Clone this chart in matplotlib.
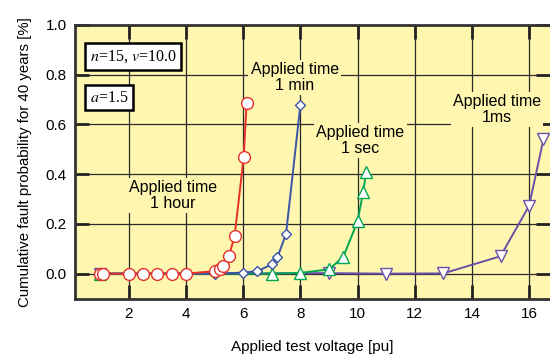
import numpy as np
import matplotlib
matplotlib.use("Agg")
import matplotlib.pyplot as plt

plt.rcParams['font.family'] = ['Liberation Sans', 'DejaVu Sans']
plt.rcParams['mathtext.fontset'] = 'stix'

# ------------ data ------------
hour_x = [1.0, 1.1, 2.0, 2.5, 3.0, 3.5, 4.0, 5.0, 5.2, 5.3, 5.5, 5.7, 6.02, 6.12]
hour_y = [0.0, 0.0, 0.0, 0.0, 0.0, 0.0, 0.0, 0.01, 0.02, 0.03, 0.07, 0.15, 0.47, 0.685]

min_x = [1.0, 5.0, 6.0, 6.5, 7.0, 7.2, 7.5, 8.0]
min_y = [0.0, 0.0, 0.004, 0.01, 0.037, 0.066, 0.16, 0.677]

sec_x = [1.0, 7.0, 8.0, 9.0, 9.5, 10.0, 10.2, 10.3]
sec_y = [0.0, 0.0, 0.003, 0.017, 0.067, 0.21, 0.33, 0.41]

ms_x = [1.0, 9.0, 11.0, 13.0, 15.0, 16.0, 16.5]
ms_y = [0.0, 0.002, 0.0, 0.001, 0.07, 0.273, 0.54]

series = [
    (hour_x, hour_y, 'o', '#E8302A', 8.5),
    (min_x, min_y, 'D', '#3B55A6', 5.5),
    (sec_x, sec_y, '^', '#00A651', 8.5),
    (ms_x, ms_y, 'v', '#6B4FA8', 8.5),
]

labels = [
    ("Applied time\n1 hour", 3.55, 0.315),
    ("Applied time\n1 min", 7.8, 0.79),
    ("Applied time\n1 sec", 10.1, 0.535),
    ("Applied time\n1ms", 14.87, 0.66),
]

bg = '#FFF7B0'


def main():
    fig = plt.figure(figsize=(5.5, 3.54), dpi=100)
    ax = fig.add_axes([75 / 550, 1 - 298.5 / 354, 475 / 550, 273.5 / 354])
    ax.set_facecolor(bg)

    ax.set_xlim(0.12, 16.73)
    ax.set_ylim(-0.1, 1.0)
    ax.set_xticks(np.arange(2, 17, 2))
    ax.set_yticks(np.arange(0, 1.01, 0.2))
    ax.set_yticklabels(['0.0', '0.2', '0.4', '0.6', '0.8', '1.0'])

    ax.grid(True, color='#2a2a2a', linewidth=0.9)
    ax.set_axisbelow(True)
    ax.tick_params(direction='in', length=10, width=2, color='#222222',
                   top=True, right=True, labelsize=11, pad=6)
    for side in ['left', 'bottom', 'top']:
        ax.spines[side].set_linewidth(2)
        ax.spines[side].set_color('#333333')
    ax.spines['right'].set_visible(False)

    # purple first, red on top (like the original)
    for (x, y, m, c, ms) in [series[3], series[2], series[1], series[0]]:
        ax.plot(x, y, color=c, linewidth=1.4, marker=m, markersize=ms,
                markerfacecolor='white', markeredgecolor=c, markeredgewidth=1.0,
                zorder=3, clip_on=False)

    for (t, x, y) in labels:
        ax.text(x, y, t, ha='center', va='center', fontsize=11.5,
                linespacing=1.1, zorder=4,
                bbox=dict(facecolor=bg, edgecolor='none', pad=1.5))

    box = dict(boxstyle='square,pad=0.3', facecolor='white',
               edgecolor='black', linewidth=1.8)
    fig.text(90 / 550, 1 - 56.5 / 354, "$n$=15, $v$=10.0", fontsize=11.5,
             family='Liberation Serif', va='center', ha='left', bbox=box)
    fig.text(90 / 550, 1 - 97.5 / 354, "$a$=1.5", fontsize=11.5,
             family='Liberation Serif', va='center', ha='left', bbox=box)

    ax.set_xlabel("Applied test voltage [pu]", fontsize=11, labelpad=14)
    ax.set_ylabel("Cumulative fault probability for 40 years [%]", fontsize=10.8,
                  labelpad=10)

    fig.savefig("out.png", dpi=100)


if __name__ == "__main__":
    main()
